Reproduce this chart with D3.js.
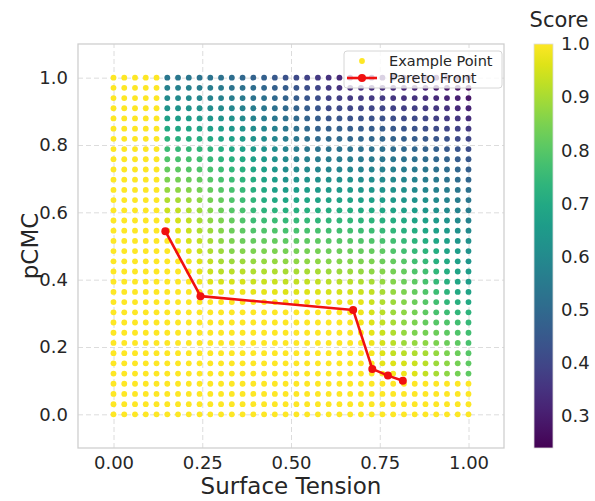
<!DOCTYPE html>
<html>
<head>
<meta charset="utf-8">
<script src="https://cdn.jsdelivr.net/npm/d3@7"></script>
<style>
  body { margin: 0; background: #ffffff; }
  text { font-family: "DejaVu Sans", sans-serif; fill: #262626; }
</style>
</head>
<body>
<script>
// grid of example points (same values on both axes)
const X_VALUES = [0, 0.0303, 0.0606, 0.0909, 0.1212, 0.1515, 0.1818, 0.2121, 0.2424, 0.2727, 0.3030, 0.3333,
  0.3636, 0.3939, 0.4242, 0.4545, 0.4848, 0.5152, 0.5455, 0.5758, 0.6061, 0.6364, 0.6667, 0.6970,
  0.7273, 0.7576, 0.7879, 0.8182, 0.8485, 0.8788, 0.9091, 0.9394, 0.9697, 1.0];
const Y_VALUES = [0, 0.0303, 0.0606, 0.0909, 0.1212, 0.1515, 0.1818, 0.2121, 0.2424, 0.2727, 0.3030, 0.3333,
  0.3636, 0.3939, 0.4242, 0.4545, 0.4848, 0.5152, 0.5455, 0.5758, 0.6061, 0.6364, 0.6667, 0.6970,
  0.7273, 0.7576, 0.7879, 0.8182, 0.8485, 0.8788, 0.9091, 0.9394, 0.9697, 1.0];

// score of each point, one row per y value (bottom row first), one column per x value
const SCORES = [
  [1,1,1,1,1, 1,1,1,1,1, 1,1,1,1,1, 1,1,1,1,1, 1,1,1,1,1, 1,1,1,1,1, 1,1,1,1],
  [1,1,1,1,1, 1,1,1,1,1, 1,1,1,1,1, 1,1,1,1,1, 1,1,1,1,1, 1,1,1,1,1, 1,1,1,1],
  [1,1,1,1,1, 1,1,1,1,1, 1,1,1,1,1, 1,1,1,1,1, 1,1,1,1,1, 1,1,1,1,1, 1,1,1,1],
  [1,1,1,1,1, 1,1,1,1,1, 1,1,1,1,1, 1,1,1,1,1, 1,1,1,1,1, 1,1,1,1,1, 1,1,1,1],
  [1,1,1,1,1, 1,1,1,1,1, 1,1,1,1,1, 1,1,1,1,1, 1,1,1,1,1, 1,.99,.98,.96,.93, .90,.87,.84,.81],
  [1,1,1,1,1, 1,1,1,1,1, 1,1,1,1,1, 1,1,1,1,1, 1,1,1,1,1, .97,.96,.95,.94,.92, .89,.87,.84,.81],
  [1,1,1,1,1, 1,1,1,1,1, 1,1,1,1,1, 1,1,1,1,1, 1,1,1,1,.99, .96,.93,.92,.91,.90, .88,.85,.83,.80],
  [1,1,1,1,1, 1,1,1,1,1, 1,1,1,1,1, 1,1,1,1,1, 1,1,1,1,.98, .95,.92,.89,.88,.87, .85,.83,.81,.78],
  [1,1,1,1,1, 1,1,1,1,1, 1,1,1,1,1, 1,1,1,1,1, 1,1,1,1,.97, .94,.91,.88,.85,.84, .83,.81,.79,.77],
  [1,1,1,1,1, 1,1,1,1,1, 1,1,1,1,1, 1,1,1,1,1, 1,1,1,.99,.96, .93,.90,.87,.85,.82, .80,.79,.77,.75],
  [1,1,1,1,1, 1,1,1,1,1, 1,1,1,1,1, 1,1,1,1,1, 1,1,1,.98,.95, .92,.89,.87,.84,.81, .78,.76,.74,.73],
  [1,1,1,1,1, 1,1,1,1,1, 1,1,1,1,1, 1,.99,.99,.99,.99, .98,.98,.98,.97,.94, .91,.89,.86,.83,.80, .77,.74,.72,.70],
  [1,1,1,1,1, 1,1,1,1,.98, .98,.98,.98,.97,.97, .97,.96,.96,.96,.96, .95,.95,.95,.94,.93, .90,.88,.85,.82,.79, .76,.73,.70,.68],
  [1,1,1,1,1, 1,1,1,.98,.96, .95,.95,.95,.94,.94, .94,.93,.93,.93,.93, .92,.92,.92,.91,.90, .88,.86,.83,.81,.78, .75,.72,.69,.66],
  [1,1,1,1,1, 1,1,1,.97,.94, .92,.92,.92,.91,.91, .91,.90,.90,.90,.90, .89,.89,.89,.88,.87, .86,.84,.82,.79,.77, .74,.71,.68,.66],
  [1,1,1,1,1, 1,1,.98,.96,.93, .90,.89,.89,.88,.88, .88,.87,.87,.87,.87, .86,.86,.86,.85,.85, .83,.82,.80,.77,.75, .72,.70,.67,.64],
  [1,1,1,1,1, 1,.99,.97,.94,.91, .89,.86,.86,.85,.85, .85,.84,.84,.84,.84, .83,.83,.83,.82,.82, .81,.79,.77,.75,.73, .71,.68,.66,.63],
  [1,1,1,1,1, 1,.98,.95,.93,.90, .87,.85,.83,.82,.82, .82,.81,.81,.81,.81, .80,.80,.80,.79,.79, .78,.77,.75,.73,.71, .69,.67,.64,.62],
  [1,1,1,1,1, .99,.97,.94,.91,.89, .86,.83,.81,.79,.79, .79,.78,.78,.78,.78, .77,.77,.77,.76,.76, .75,.74,.72,.71,.69, .67,.65,.62,.60],
  [1,1,1,1,1, .97,.95,.93,.90,.87, .85,.82,.79,.76,.76, .76,.75,.75,.75,.74, .74,.74,.74,.73,.73, .72,.71,.70,.68,.67, .65,.63,.60,.58],
  [1,1,1,1,1, .94,.93,.91,.89,.86, .83,.80,.78,.75,.73, .73,.72,.72,.72,.71, .71,.71,.71,.70,.70, .69,.68,.67,.66,.64, .62,.60,.58,.56],
  [1,1,1,1,1, .91,.90,.89,.87,.84, .82,.79,.76,.74,.71, .70,.69,.69,.69,.68, .68,.68,.68,.67,.67, .66,.65,.64,.63,.62, .60,.58,.56,.54],
  [1,1,1,1,1, .88,.87,.86,.84,.82, .80,.78,.75,.72,.70, .67,.66,.66,.66,.65, .65,.65,.65,.64,.64, .63,.63,.62,.60,.59, .57,.56,.54,.52],
  [1,1,1,1,1, .85,.84,.83,.82,.80, .78,.76,.73,.71,.68, .66,.63,.63,.63,.62, .62,.62,.62,.61,.61, .60,.60,.59,.58,.56, .55,.53,.51,.49],
  [1,1,1,1,1, .82,.81,.80,.79,.78, .76,.74,.72,.69,.67, .64,.61,.60,.60,.59, .59,.59,.59,.58,.58, .57,.57,.56,.55,.54, .52,.51,.49,.47],
  [1,1,1,1,1, .79,.78,.78,.77,.75, .73,.72,.70,.67,.65, .62,.60,.57,.57,.56, .56,.56,.56,.55,.55, .54,.54,.53,.52,.51, .49,.48,.46,.45],
  [1,1,1,1,1, .76,.75,.75,.74,.73, .71,.69,.67,.65,.63, .61,.58,.56,.54,.53, .53,.53,.53,.52,.52, .52,.51,.50,.49,.48, .47,.45,.44,.42],
  [1,1,1,1,1, .73,.72,.72,.71,.70, .68,.67,.65,.63,.61, .59,.56,.54,.52,.50, .50,.50,.49,.49,.49, .49,.48,.47,.46,.45, .44,.43,.41,.40],
  [1,1,1,1,1, .70,.69,.69,.68,.67, .66,.64,.63,.61,.59, .57,.54,.52,.50,.47, .47,.47,.46,.46,.46, .46,.45,.44,.43,.42, .41,.40,.39,.37],
  [1,1,1,1,1, .67,.66,.66,.65,.64, .63,.62,.60,.58,.56, .54,.52,.50,.48,.46, .44,.44,.43,.43,.43, .43,.42,.41,.41,.40, .38,.37,.36,.34],
  [1,1,1,1,1, .63,.63,.63,.62,.61, .60,.59,.57,.56,.54, .52,.50,.48,.46,.44, .41,.41,.40,.40,.40, .40,.39,.38,.38,.37, .36,.35,.33,.32],
  [1,1,1,1,1, .60,.60,.60,.59,.58, .57,.56,.55,.53,.52, .50,.48,.46,.44,.42, .39,.38,.37,.37,.37, .37,.36,.35,.35,.34, .33,.32,.31,.29],
  [1,1,1,1,1, .57,.57,.57,.56,.56, .55,.53,.52,.51,.49, .47,.46,.44,.42,.40, .37,.35,.34,.34,.34, .34,.33,.32,.32,.31, .30,.29,.28,.26],
  [1,1,1,1,1, .54,.54,.54,.53,.53, .52,.51,.49,.48,.47, .45,.43,.41,.39,.37, .35,.33,.31,.31,.31, .31,.30,.30,.29,.28, .27,.26,.25,.24]
];

// the pareto front
const PARETO_X = [0.146, 0.245, 0.675, 0.729, 0.773, 0.815];
const PARETO_Y = [0.544, 0.351, 0.310, 0.135, 0.115, 0.100];

// ticks
const X_TICKS = [0, 0.25, 0.5, 0.75, 1.0];
const Y_TICKS = [0, 0.2, 0.4, 0.6, 0.8, 1.0];
const CBAR_TICKS = [0.3, 0.4, 0.5, 0.6, 0.7, 0.8, 0.9, 1.0];

const WIDTH = 595;
const HEIGHT = 501;
const LEFT = 78, RIGHT = 504, TOP = 44, BOTTOM = 448;
const CBAR_X = 534, CBAR_W = 19;
const RED = "#f01010";

//the SVG
const svg = d3.select("body").append("svg")
  .attr("width", WIDTH)
  .attr("height", HEIGHT);

svg.append("rect").attr("width", WIDTH).attr("height", HEIGHT).attr("fill", "#ffffff");

//the scales
const xScale = d3.scaleLinear().domain([-0.1, 1.1]).range([LEFT, RIGHT]);
const yScale = d3.scaleLinear().domain([-0.1, 1.1]).range([BOTTOM, TOP]);
const minScore = d3.min(SCORES, row => d3.min(row));
const color = d3.scaleSequential(d3.interpolateViridis).domain([minScore, 1]);

//dashed grid
const gridX = svg.append("g")
  .attr("transform", "translate(0," + BOTTOM + ")")
  .call(d3.axisBottom(xScale).tickValues(X_TICKS).tickSize(-(BOTTOM - TOP)).tickFormat(""));
const gridY = svg.append("g")
  .attr("transform", "translate(" + LEFT + ",0)")
  .call(d3.axisLeft(yScale).tickValues(Y_TICKS).tickSize(-(RIGHT - LEFT)).tickFormat(""));
[gridX, gridY].forEach(g => {
  g.select(".domain").remove();
  g.selectAll("line").attr("stroke", "#dcdcdc").attr("stroke-width", 1).attr("stroke-dasharray", "5,3");
});

//the example points
const points = [];
Y_VALUES.forEach((y, j) => X_VALUES.forEach((x, i) => points.push({ x: x, y: y, s: SCORES[j][i] })));

svg.append("g").selectAll("circle")
  .data(points).enter().append("circle")
  .attr("cx", d => xScale(d.x))
  .attr("cy", d => yScale(d.y))
  .attr("r", 2.9)
  .attr("fill", d => color(d.s));

//the pareto front
const front = PARETO_X.map((x, i) => [x, PARETO_Y[i]]);
svg.append("path")
  .datum(front)
  .attr("fill", "none")
  .attr("stroke", RED)
  .attr("stroke-width", 2.6)
  .attr("stroke-linejoin", "round")
  .attr("d", d3.line().x(d => xScale(d[0])).y(d => yScale(d[1])));
svg.append("g").selectAll("circle")
  .data(front).enter().append("circle")
  .attr("cx", d => xScale(d[0]))
  .attr("cy", d => yScale(d[1]))
  .attr("r", 4)
  .attr("fill", RED);

//frame
svg.append("rect")
  .attr("x", LEFT).attr("y", TOP)
  .attr("width", RIGHT - LEFT).attr("height", BOTTOM - TOP)
  .attr("fill", "none").attr("stroke", "#cfcfcf").attr("stroke-width", 1.3);

//the axis
const xAxis = svg.append("g")
  .attr("transform", "translate(0," + BOTTOM + ")")
  .call(d3.axisBottom(xScale).tickValues(X_TICKS).tickFormat(d3.format(".2f")).tickSize(0).tickPadding(8));
const yAxis = svg.append("g")
  .attr("transform", "translate(" + LEFT + ",0)")
  .call(d3.axisLeft(yScale).tickValues(Y_TICKS).tickFormat(d3.format(".1f")).tickSize(0).tickPadding(10));
[xAxis, yAxis].forEach(g => {
  g.select(".domain").remove();
  g.selectAll("text").style("font-size", "18px").attr("fill", "#262626").style("font-family", "DejaVu Sans");
});

//axis labels
svg.append("text")
  .attr("x", xScale(0.5)).attr("y", 494)
  .attr("text-anchor", "middle")
  .style("font-size", "23px")
  .text("Surface Tension");
svg.append("text")
  .attr("transform", "translate(38," + yScale(0.5) + ") rotate(-90)")
  .attr("text-anchor", "middle")
  .style("font-size", "23px")
  .text("pCMC");

//legend
const legend = svg.append("g");
legend.append("rect")
  .attr("x", 344).attr("y", 51).attr("width", 158).attr("height", 37).attr("rx", 3)
  .attr("fill", "#ffffff").attr("fill-opacity", 0.8)
  .attr("stroke", "#d6d6d6");
legend.append("circle").attr("cx", 362).attr("cy", 61).attr("r", 2.9).attr("fill", color(1));
legend.append("text").attr("x", 389).attr("y", 66).style("font-size", "14.5px").attr("fill", "#555").text("Example Point");
legend.append("line").attr("x1", 347).attr("x2", 377).attr("y1", 78).attr("y2", 78)
  .attr("stroke", RED).attr("stroke-width", 2.6);
legend.append("circle").attr("cx", 362).attr("cy", 78).attr("r", 4).attr("fill", RED);
legend.append("text").attr("x", 389).attr("y", 83).style("font-size", "14.5px").attr("fill", "#555").text("Pareto Front");

//colorbar
const cScale = d3.scaleLinear().domain([minScore, 1]).range([BOTTOM, TOP]);
const grad = svg.append("defs").append("linearGradient")
  .attr("id", "cbar").attr("x1", "0").attr("y1", "1").attr("x2", "0").attr("y2", "0");
d3.range(0, 1.0001, 0.05).forEach(t => {
  grad.append("stop").attr("offset", t).attr("stop-color", d3.interpolateViridis(t));
});
svg.append("rect")
  .attr("x", CBAR_X).attr("y", TOP).attr("width", CBAR_W).attr("height", BOTTOM - TOP)
  .attr("fill", "url(#cbar)").attr("stroke", "#dddddd").attr("stroke-width", 0.8);
const cAxis = svg.append("g")
  .attr("transform", "translate(" + (CBAR_X + CBAR_W) + ",0)")
  .call(d3.axisRight(cScale).tickValues(CBAR_TICKS).tickFormat(d3.format(".1f")).tickSize(0).tickPadding(8));
cAxis.select(".domain").remove();
cAxis.selectAll("text").style("font-size", "18px").attr("fill", "#262626").style("font-family", "DejaVu Sans");

svg.append("text")
  .attr("x", 559).attr("y", 27)
  .attr("text-anchor", "middle")
  .style("font-size", "21px")
  .text("Score");
</script>
</body>
</html>
